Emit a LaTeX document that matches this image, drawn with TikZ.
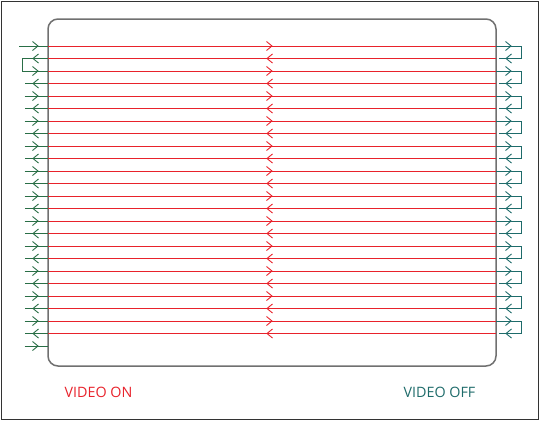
\documentclass[tikz,border=0pt]{standalone}
\usepackage{fontspec}
\setmainfont{Open Sans}
\definecolor{vred}{HTML}{E8222B}
\definecolor{vgreenL}{HTML}{2A6E46}
\definecolor{vteal}{HTML}{1E6B6A}
\definecolor{scr}{HTML}{707070}
\begin{document}
\begin{tikzpicture}[x=1pt,y=-1pt,
  redline/.style={vred,line width=1pt},
  lgreen/.style={vgreenL,line width=1pt},
  rgreen/.style={vteal,line width=1pt},
  pics/chevr/.style={code={\draw[line width=0.9pt] (-5.5,-4.5)--(0,0)--(-5.5,4.5);}},
  pics/chevl/.style={code={\draw[line width=0.9pt] (5.5,-4.5)--(0,0)--(5.5,4.5);}},
  lbl/.style={font=\fontsize{14.3}{17}\selectfont,inner sep=0pt}]
\useasboundingbox (0,0) rectangle (540,421);
\draw[black!80,line width=1pt] (1.2,1.2) rectangle (538.8,419.3);
\draw[scr,line width=1.5pt,rounded corners=10pt] (48,19) rectangle (496,366);
\foreach \k in {0,...,23}{
  \pgfmathsetmacro\yy{46+12.5*\k}
  \pgfmathtruncatemacro\pk{mod(\k,2)}
  \coordinate (L\k) at (48,\yy);
  \coordinate (R\k) at (496,\yy);
  \draw[redline] (L\k) -- (R\k);
  \ifnum\pk=0
    \pic[color=vred] at (272,\yy) {chevr};
    \ifnum\k>2
      \coordinate (S\k) at (24.5,\yy);
      \draw[lgreen] (S\k) -- (L\k);
    \fi
    \pic[color=vgreenL] at (38,\yy) {chevr};
    % right bracket
    \pgfmathsetmacro\yn{\yy+12.5}
    \coordinate (BA\k) at (521,\yy);
    \coordinate (BB\k) at (521,\yn);
    \coordinate (BC\k) at (499,\yn);
    \draw[rgreen] (R\k) -- (BA\k) -- (BB\k) -- (BC\k);
    \pic[color=vteal] at (511,\yy) {chevr};
    \pic[color=vteal] at (506,\yn) {chevl};
  \else
    \pic[color=vred] at (267,\yy) {chevl};
    \ifnum\k>1
      \coordinate (S\k) at (24.5,\yy);
      \draw[lgreen] (L\k) -- (S\k);
    \fi
    \pic[color=vgreenL] at (33,\yy) {chevl};
  \fi
}
% first line start
\coordinate (start) at (19,46);
\draw[lgreen] (start) -- (L0);
% left bracket between lines 1 and 2
\coordinate (lb1) at (22.7,58.5);
\coordinate (lb2) at (22.7,71);
\draw[lgreen] (L1) -- (lb1) -- (lb2) -- (L2);
% last stub
\coordinate (e1) at (24.5,346);
\coordinate (e2) at (48,346);
\draw[lgreen] (e1) -- (e2);
\pic[color=vgreenL] at (38,346) {chevr};
\node[lbl,text=vred] (von) at (98.5,392) {VIDEO ON};
\node[lbl,text=vteal] (voff) at (439.5,392) {VIDEO OFF};
\end{tikzpicture}
\end{document}
